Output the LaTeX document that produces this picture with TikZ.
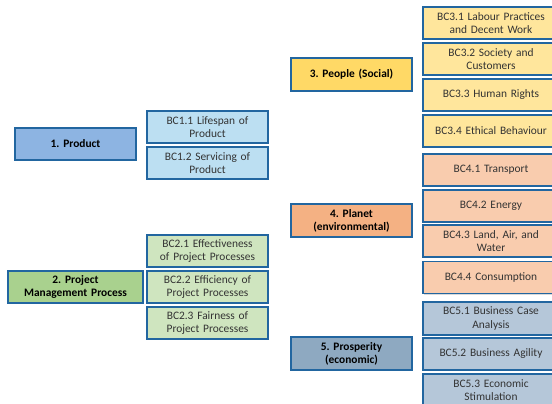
\documentclass[tikz,border=0pt]{standalone}
\usepackage{fontspec}
\setmainfont{Carlito}
\usetikzlibrary{shadows}
\definecolor{edge}{HTML}{2266A0}
\definecolor{mainA}{HTML}{8DB4E2}
\definecolor{subA}{HTML}{BCDFF2}
\definecolor{mainB}{HTML}{A9D18E}
\definecolor{subB}{HTML}{CFE5BF}
\definecolor{mainC}{HTML}{FFD966}
\definecolor{subC}{HTML}{FFE69C}
\definecolor{mainD}{HTML}{F4B183}
\definecolor{subD}{HTML}{F9CCAE}
\definecolor{mainE}{HTML}{8EA9C1}
\definecolor{subE}{HTML}{B5C7D9}
\definecolor{txt}{HTML}{333333}
\tikzset{
  box/.style={draw=edge, line width=1.6pt, inner sep=1pt, align=center,
    font=\fontsize{11.4}{13.2}\selectfont\frenchspacing, text=txt,
    drop shadow={shadow xshift=1pt, shadow yshift=-1pt, fill=black!25, opacity=0.6}},
  mainbox/.style={box, minimum width=121pt, minimum height=32pt, text width=118pt,
    font=\fontsize{11.4}{13.2}\selectfont\bfseries\frenchspacing, text=black},
  subbox/.style={box, minimum width=121pt, minimum height=32pt, text width=118pt},
  rbox/.style={box, minimum width=136pt, minimum height=32pt, text width=130pt}
}
\begin{document}
\begin{tikzpicture}[x=1pt,y=-1pt]
\useasboundingbox (0,0) rectangle (552,404);
\clip (0,0) rectangle (552,404);
% group 1
\node[mainbox, fill=mainA] (p1) at (75.5,144) {1. Product};
\node[subbox, fill=subA] (bc11) at (207.5,127) {BC1.1 Lifespan of\\Product};
\node[subbox, fill=subA] (bc12) at (207.5,163) {BC1.2 Servicing of\\Product};
% group 2
\node[mainbox, fill=mainB, minimum width=135pt, text width=132pt] (p2) at (75.5,287) {2. Project\\Management Process};
\node[subbox, fill=subB] (bc21) at (207.5,251) {BC2.1 Effectiveness\\of Project Processes};
\node[subbox, fill=subB] (bc22) at (207.5,287) {BC2.2 Efficiency of\\Project Processes};
\node[subbox, fill=subB] (bc23) at (207.5,323) {BC2.3 Fairness of\\Project Processes};
% group 3
\node[mainbox, fill=mainC, minimum height=33pt] (p3) at (351.5,74.5) {3. People (Social)};
\node[rbox, fill=subC] (bc31) at (491,23) {BC3.1 Labour Practices\\and Decent Work};
\node[rbox, fill=subC] (bc32) at (491,59) {BC3.2 Society and\\Customers};
\node[rbox, fill=subC] (bc33) at (491,95) {BC3.3 Human Rights};
\node[rbox, fill=subC] (bc34) at (491,131) {BC3.4 Ethical Behaviour};
% group 4
\node[mainbox, fill=mainD, minimum height=33pt] (p4) at (351.5,220.5) {4. Planet\\(environmental)};
\node[rbox, fill=subD] (bc41) at (491,170) {BC4.1 Transport};
\node[rbox, fill=subD] (bc42) at (491,206) {BC4.2 Energy};
\node[rbox, fill=subD] (bc43) at (491,241) {BC4.3 Land, Air, and\\Water};
\node[rbox, fill=subD] (bc44) at (491,277.5) {BC4.4 Consumption};
% group 5
\node[mainbox, fill=mainE, minimum height=33pt] (p5) at (351.5,353.5) {5. Prosperity\\(economic)};
\node[rbox, fill=subE, minimum height=33pt] (bc51) at (491,318.5) {BC5.1 Business Case\\Analysis};
\node[rbox, fill=subE] (bc52) at (491,354) {BC5.2 Business Agility};
\node[rbox, fill=subE] (bc53) at (491,390) {BC5.3 Economic\\Stimulation};
\end{tikzpicture}
\end{document}
